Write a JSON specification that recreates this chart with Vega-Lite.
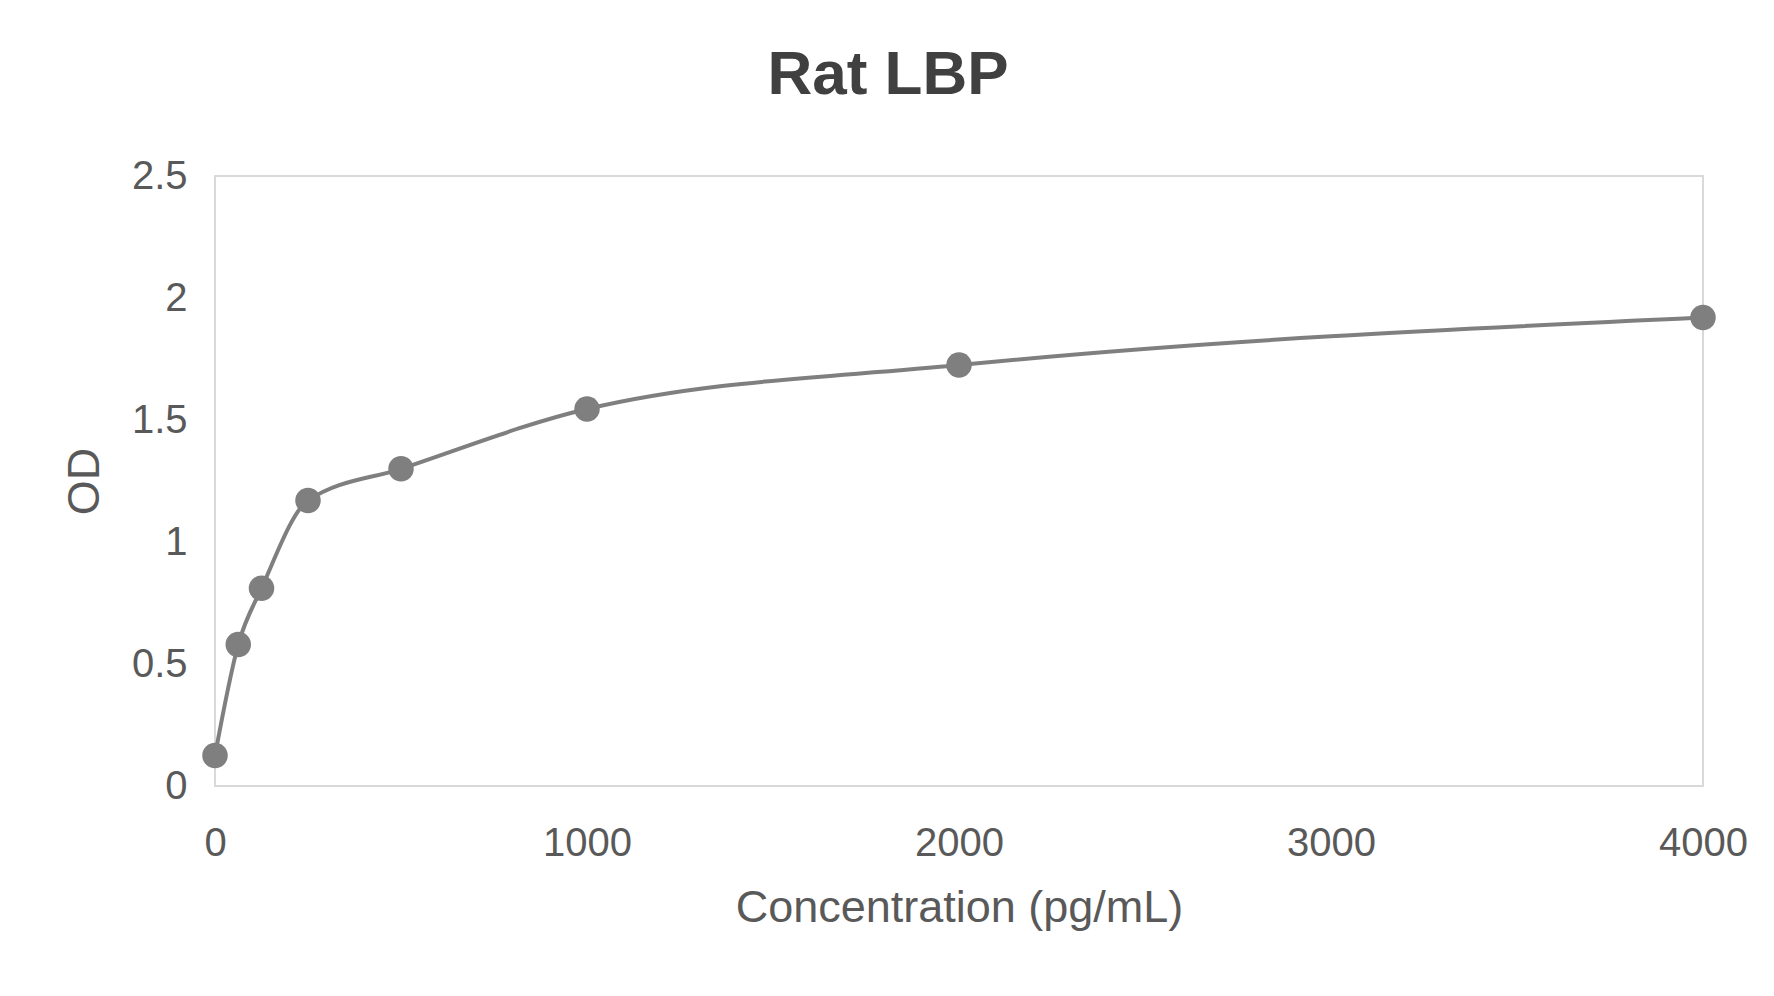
{
  "$schema": "https://vega.github.io/schema/vega-lite/v6.json",
  "autosize": {"type": "none"},
  "width": 1488,
  "height": 610,
  "padding": {"left": 215, "top": 176, "right": 71, "bottom": 210},
  "background": "white",
  "title": {
    "text": "Rat LBP",
    "font": "Liberation Sans",
    "fontSize": 62,
    "fontWeight": "bold",
    "color": "#404040",
    "anchor": "middle",
    "dx": -71,
    "offset": 49
  },
  "data": {
    "values": [
      {"conc": 0, "od": 0.125},
      {"conc": 62.5, "od": 0.58},
      {"conc": 125, "od": 0.81},
      {"conc": 250, "od": 1.17},
      {"conc": 500, "od": 1.30},
      {"conc": 1000, "od": 1.545},
      {"conc": 2000, "od": 1.725},
      {"conc": 4000, "od": 1.92}
    ]
  },
  "encoding": {
    "x": {
      "field": "conc",
      "type": "quantitative",
      "scale": {"domain": [0, 4000], "nice": false, "zero": true},
      "axis": {
        "title": "Concentration (pg/mL)",
        "values": [0, 1000, 2000, 3000, 4000],
        "format": "d",
        "grid": false,
        "ticks": false,
        "domain": false,
        "labelFlush": false,
        "labelFont": "Liberation Sans",
        "labelFontSize": 40,
        "labelColor": "#595959",
        "labelPadding": 37,
        "titleFont": "Liberation Sans",
        "titleFontSize": 45,
        "titleFontWeight": "normal",
        "titleColor": "#595959",
        "titlePadding": 22
      }
    },
    "y": {
      "field": "od",
      "type": "quantitative",
      "scale": {"domain": [0, 2.5], "nice": false},
      "axis": {
        "title": "OD",
        "values": [0, 0.5, 1, 1.5, 2, 2.5],
        "format": "~g",
        "grid": false,
        "ticks": false,
        "domain": false,
        "labelFlush": false,
        "labelFont": "Liberation Sans",
        "labelFontSize": 40,
        "labelColor": "#595959",
        "labelPadding": 28,
        "titleFont": "Liberation Sans",
        "titleFontSize": 45,
        "titleFontWeight": "normal",
        "titleColor": "#595959",
        "titlePadding": 24
      }
    }
  },
  "layer": [
    {
      "mark": {"type": "line", "interpolate": "monotone", "color": "#7f7f7f", "strokeWidth": 4}
    },
    {
      "mark": {"type": "point", "filled": true, "shape": "circle", "size": 650, "color": "#7f7f7f", "opacity": 1}
    }
  ],
  "config": {
    "view": {"stroke": "#d9d9d9", "strokeWidth": 2}
  }
}
